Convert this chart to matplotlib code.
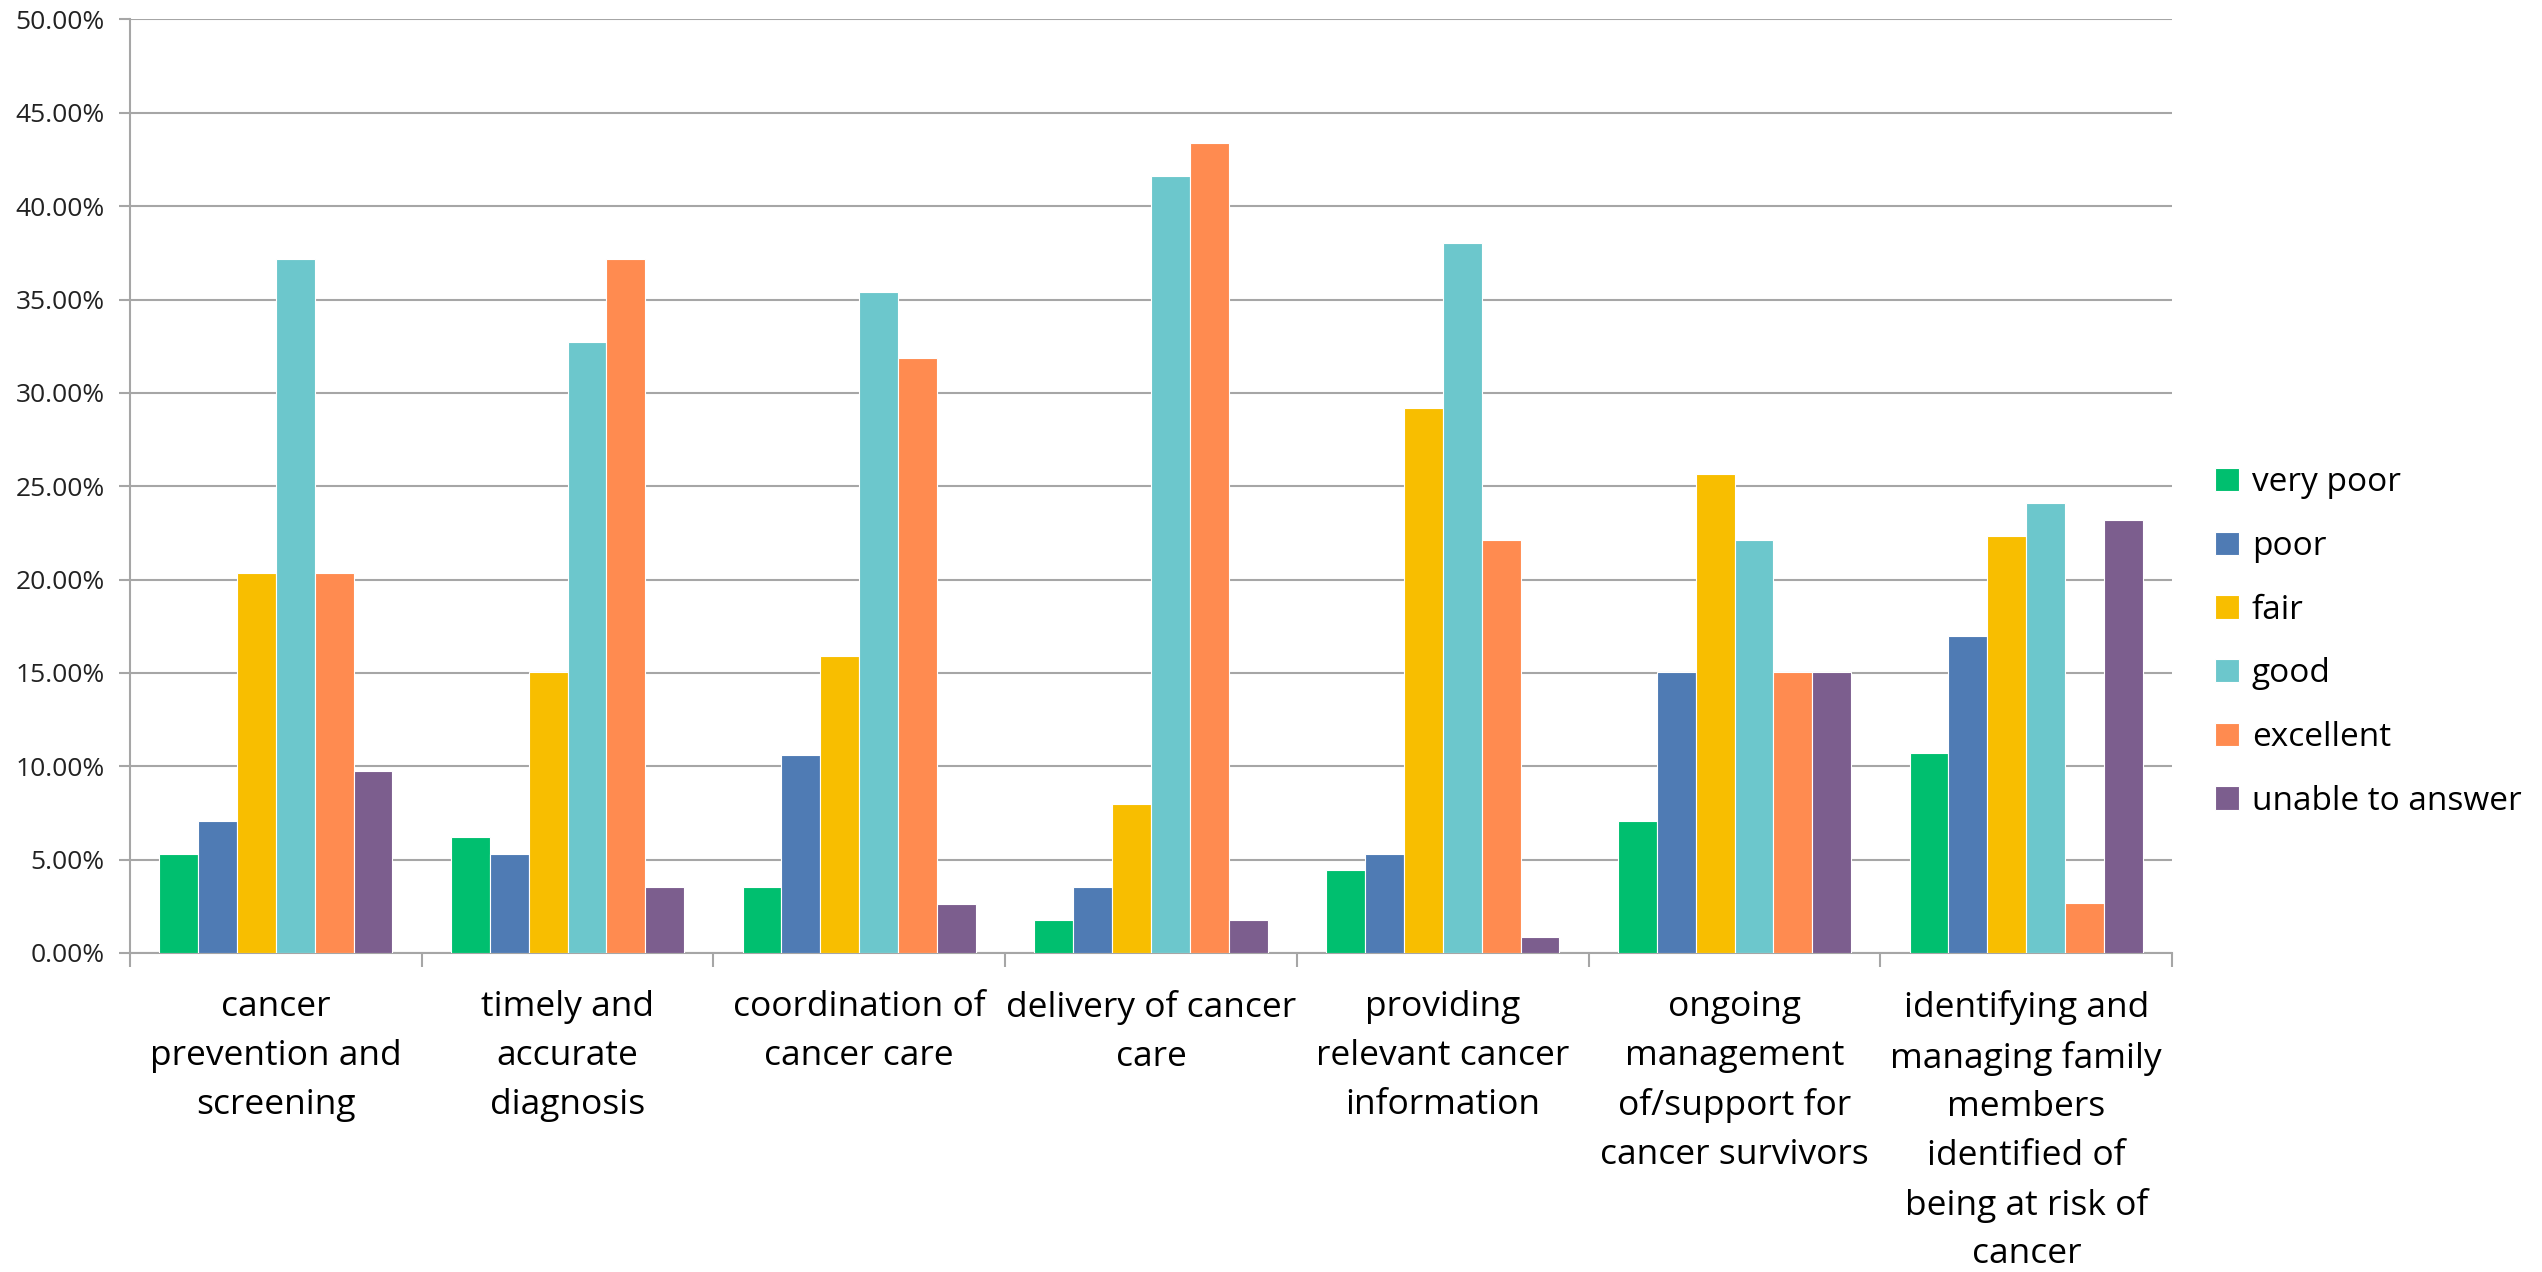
"""Bar chart of survey ratings across cancer care areas -> out.png"""
import matplotlib

matplotlib.use("Agg")
import matplotlib.pyplot as plt
import numpy as np
from matplotlib.ticker import FixedLocator, FuncFormatter

CATEGORIES = [
    "cancer\nprevention and\nscreening",
    "timely and\naccurate\ndiagnosis",
    "coordination of\ncancer care",
    "delivery of cancer\ncare",
    "providing\nrelevant cancer\ninformation",
    "ongoing\nmanagement\nof/support for\ncancer survivors",
    "identifying and\nmanaging family\nmembers\nidentified of\nbeing at risk of\ncancer",
]

RATINGS = ["very poor", "poor", "fair", "good", "excellent", "unable to answer"]

# percent of respondents per area
VERY_POOR = [5.31, 6.19, 3.54, 1.77, 4.42, 7.08, 10.71]
POOR = [7.08, 5.31, 10.62, 3.54, 5.31, 15.04, 16.96]
FAIR = [20.35, 15.04, 15.93, 7.96, 29.20, 25.66, 22.32]
GOOD = [37.17, 32.74, 35.40, 41.59, 38.05, 22.12, 24.11]
EXCELLENT = [20.35, 37.17, 31.86, 43.36, 22.12, 15.04, 2.68]
UNABLE = [9.73, 3.54, 2.65, 1.77, 0.88, 15.04, 23.21]

COLORS = ["#00BF6F", "#4F7BB4", "#F8BE00", "#6CC7CC", "#FF8B50", "#7C5E8E"]

FONT = ["Open Sans", "DejaVu Sans"]
GRID_GREY = "#A6A6A6"


def main() -> None:
    plt.rcParams["font.family"] = FONT
    series = [VERY_POOR, POOR, FAIR, GOOD, EXCELLENT, UNABLE]

    fig = plt.figure(figsize=(25.42, 12.72), dpi=100)
    ax = fig.add_axes([0.0511, 0.2508, 0.8034, 0.7339])

    n_groups = len(CATEGORIES)
    n_series = len(series)
    width = 0.8 / n_series
    x = np.arange(n_groups)
    for i, (label, vals, color) in enumerate(zip(RATINGS, series, COLORS)):
        offset = -0.4 + width * (i + 0.5)
        ax.bar(x + offset, vals, width=width, color=color, edgecolor="white",
               linewidth=0.8, label=label, zorder=3)

    ax.set_xlim(-0.5, n_groups - 0.5)
    ax.set_ylim(0, 50)
    ax.set_yticks(np.arange(0, 50.1, 5))
    ax.yaxis.set_major_formatter(FuncFormatter(lambda v, _: f"{v:.2f}%"))
    ax.grid(axis="y", color=GRID_GREY, linewidth=1.5, zorder=0)

    # tick marks sit on group boundaries, labels under group centres
    ax.xaxis.set_major_locator(FixedLocator(np.arange(-0.5, n_groups, 1.0)))
    ax.xaxis.set_major_formatter(FuncFormatter(lambda v, _: ""))
    ax.xaxis.set_minor_locator(FixedLocator(x))
    ax.set_xticklabels(CATEGORIES, minor=True, fontsize=25.5, linespacing=1.56)
    ax.tick_params(axis="x", which="major", length=10, width=1.5, color=GRID_GREY, direction="out")
    ax.tick_params(axis="x", which="minor", length=0, pad=27)
    ax.tick_params(axis="y", length=8, width=1.5, color=GRID_GREY, labelsize=19, pad=10,
                   labelcolor="#222222")

    for side in ("top", "right"):
        ax.spines[side].set_visible(False)
    for side in ("left", "bottom"):
        ax.spines[side].set_color(GRID_GREY)
        ax.spines[side].set_linewidth(1.5)

    fig.legend(loc="center left", bbox_to_anchor=(2202 / 2542, 1 - 642 / 1272),
               frameon=False, fontsize=24, handlelength=0.7, handleheight=0.7,
               handletextpad=0.4, labelspacing=0.92, borderaxespad=0)

    fig.savefig("out.png", dpi=100)
    plt.close(fig)


if __name__ == "__main__":
    main()
